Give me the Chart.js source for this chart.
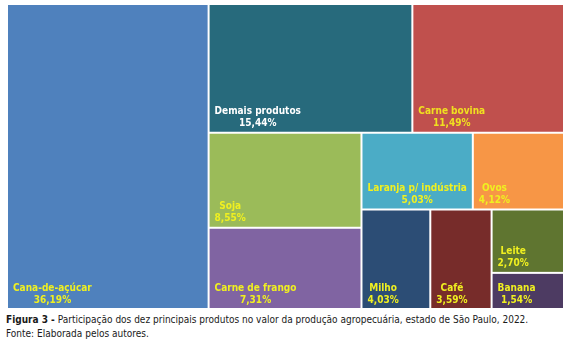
<!DOCTYPE html>
<html>
<head>
<meta charset="utf-8">
<script src="https://cdn.jsdelivr.net/npm/chart.js@4/dist/chart.umd.min.js"></script>
<style>
  body { margin: 0; background: #fff; }
  #wrap { position: relative; width: 579px; height: 312px; }
  .caption { margin: 1px 0 0 6px; font-family: "DejaVu Sans Condensed", "DejaVu Sans", sans-serif; font-size: 10px; line-height: 14px; color: #1a1a1a; }
</style>
</head>
<body>
<div id="wrap"><canvas id="myChart"></canvas></div>
<div class="caption"><b>Figura 3 -</b> Participação dos dez principais produtos no valor da produção agropecuária, estado de São Paulo, 2022.<br>Fonte: Elaborada pelos autores.</div>
<script>
// products, largest first (treemap order)
const products = ['Cana-de-açúcar', 'Demais produtos', 'Carne bovina', 'Soja', 'Carne de frango',
  'Laranja p/ indústria', 'Ovos', 'Milho', 'Café', 'Leite', 'Banana'];
// share of the value of production (%)
const shares = [36.19, 15.44, 11.49, 8.55, 7.31, 5.03, 4.12, 4.03, 3.59, 2.70, 1.54];
const boxColors = ['#4f81bd', '#276a7c', '#c0504d', '#9bbb59', '#8064a2',
  '#4bacc6', '#f79646', '#2c4d75', '#772c2a', '#5f7530', '#4d3b62'];
const labelColors = ['#f0f020', '#ffffff', '#f0e020', '#f0f020', '#f0f020',
  '#f0f020', '#f0f020', '#f0f020', '#f0f020', '#f0f020', '#f0f020'];

// squarified treemap layout, in axis units
function squarify(values, box) {
  const total = values.reduce((a, b) => a + b, 0);
  const areas = values.map(v => v / total * box.w * box.h);
  const out = [];
  let rect = { x: box.x, y: box.y, w: box.w, h: box.h };
  let i = 0;
  const worst = (row, side) => {
    const s = row.reduce((a, b) => a + b, 0);
    const mx = Math.max(...row), mn = Math.min(...row);
    return Math.max(side * side * mx / (s * s), (s * s) / (side * side * mn));
  };
  while (i < areas.length) {
    const side = Math.min(rect.w, rect.h);
    let row = [areas[i]];
    let j = i + 1;
    while (j < areas.length && worst(row.concat(areas[j]), side) <= worst(row, side)) {
      row.push(areas[j]);
      j++;
    }
    const s = row.reduce((a, b) => a + b, 0);
    if (rect.w >= rect.h) {
      // column on the left
      const cw = s / rect.h;
      let yy = rect.y;
      row.forEach(a => { out.push({ x: rect.x, y: yy, w: cw, h: a / cw }); yy += a / cw; });
      rect = { x: rect.x + cw, y: rect.y, w: rect.w - cw, h: rect.h };
    } else {
      // row on top
      const rh = s / rect.w;
      let xx = rect.x;
      row.forEach(a => { out.push({ x: xx, y: rect.y, w: a / rh, h: rh }); xx += a / rh; });
      rect = { x: rect.x, y: rect.y + rh, w: rect.w, h: rect.h - rh };
    }
    i = j;
  }
  return out;
}

const treemapPlugin = {
  id: 'treemap',
  beforeDatasetsDraw(chart) {
    const { ctx, scales: { x, y } } = chart;
    const cells = squarify(shares, { x: 0, y: 0, w: 150, h: 100 });
    ctx.save();
    cells.forEach((c, i) => {
      const left = x.getPixelForValue(c.x) + 1;
      const right = x.getPixelForValue(c.x + c.w) - 1;
      const top = y.getPixelForValue(c.y) + 1;
      const bottom = y.getPixelForValue(c.y + c.h) - 1;
      ctx.fillStyle = boxColors[i];
      ctx.fillRect(left, top, right - left, bottom - top);

      // label: name over percentage, both centred on the block
      const pct = shares[i].toFixed(2).replace('.', ',') + '%';
      ctx.font = 'bold 10px "DejaVu Sans Condensed", "DejaVu Sans", sans-serif';
      const wMax = Math.max(ctx.measureText(products[i]).width, ctx.measureText(pct).width);
      const cx = left + 5 + wMax / 2;
      ctx.fillStyle = labelColors[i];
      ctx.textAlign = 'center';
      ctx.textBaseline = 'middle';
      ctx.fillText(products[i], cx, bottom - 20);
      ctx.fillText(pct, cx, bottom - 8);
    });
    ctx.restore();
  }
};

const ctx = document.getElementById('myChart').getContext('2d');
const myChart = new Chart(ctx, {
  type: 'scatter',
  data: { datasets: [{ data: [] }] },
  options: {
    responsive: true,
    maintainAspectRatio: false,
    animation: false,
    layout: { padding: { left: 7, top: 4, right: 15, bottom: 3 } },
    plugins: { legend: { display: false }, tooltip: { enabled: false } },
    scales: {
      x: { min: 0, max: 150, display: false },
      y: { min: 0, max: 100, reverse: true, display: false }
    }
  },
  plugins: [treemapPlugin]
});
</script>
</body>
</html>
